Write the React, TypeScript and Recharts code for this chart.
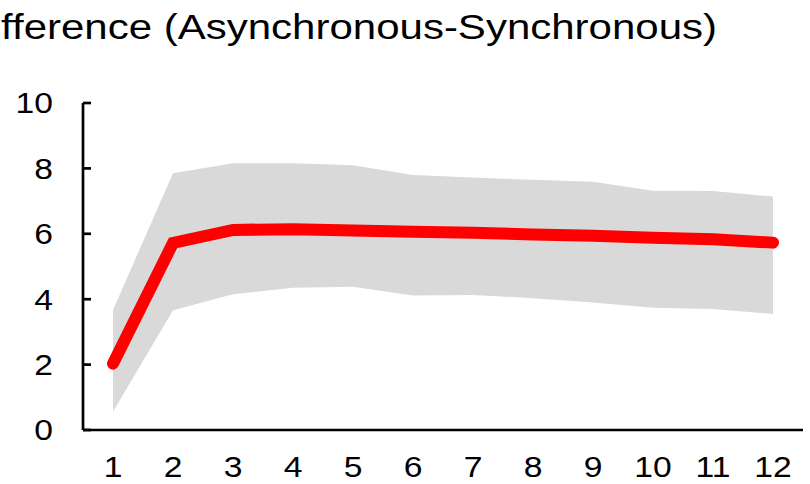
import React from "react";
import { ComposedChart, Area, Line, XAxis, YAxis } from "recharts";

const horizons = ["1", "2", "3", "4", "5", "6", "7", "8", "9", "10", "11", "12"];
const meanDiff = [2.03, 5.72, 6.12, 6.14, 6.1, 6.06, 6.03, 5.98, 5.94, 5.88, 5.83, 5.73];
const upperBound = [3.67, 7.85, 8.16, 8.16, 8.1, 7.8, 7.72, 7.65, 7.59, 7.32, 7.31, 7.14];
const lowerBound = [0.56, 3.66, 4.15, 4.35, 4.38, 4.11, 4.13, 4.03, 3.9, 3.74, 3.7, 3.55];
const yTicks = [0, 2, 4, 6, 8, 10];
const titleText = "Difference (Asynchronous-Synchronous)";

const data = horizons.map((h, i) => ({
  h,
  mean: meanDiff[i],
  band: [lowerBound[i], upperBound[i]],
}));

const FONT = "'Liberation Sans', Arial, sans-serif";
const SX = 1.16;

const YTick = (props: any) => {
  const { x, y, payload } = props;
  return (
    <g>
      <text
        transform={`translate(${x},${y}) scale(${SX},1)`}
        dy="0.355em"
        textAnchor="end"
        fontSize={29}
        fill="#000"
        fontFamily={FONT}
      >
        {payload.value}
      </text>
      <line x1={x + 30} x2={x + 38} y1={y} y2={y} stroke="#000" strokeWidth={2.7} />
    </g>
  );
};

const XTick = (props: any) => {
  const { x, y, payload } = props;
  return (
    <text
      transform={`translate(${x},${y + 47}) scale(${SX},1)`}
      textAnchor="middle"
      fontSize={29}
      fill="#000"
      fontFamily={FONT}
    >
      {payload.value}
    </text>
  );
};

export default function App() {
  return (
    <div style={{ position: "absolute", left: 0, top: 0, width: 810, height: 484, background: "#fff" }}>
      <ComposedChart
        width={810}
        height={484}
        data={data}
        margin={{ top: 103, right: 7, bottom: 0, left: 0 }}
      >
        <XAxis
          dataKey="h"
          height={54}
          padding={{ left: 30, right: 30 }}
          tickLine={false}
          tickSize={0}
          tickMargin={0}
          axisLine={{ stroke: "#000", strokeWidth: 2.7 }}
          tick={<XTick />}
          interval={0}
        />
        <YAxis
          width={83}
          domain={[0, 10]}
          ticks={yTicks}
          type="number"
          tickLine={false}
          tickSize={0}
          tickMargin={30}
          axisLine={{ stroke: "#000", strokeWidth: 2.7 }}
          tick={<YTick />}
          interval={0}
        />
        <Area
          dataKey="band"
          type="linear"
          stroke="none"
          fill="#d9d9d9"
          fillOpacity={1}
          isAnimationActive={false}
          dot={false}
          activeDot={false}
        />
        <Line
          dataKey="mean"
          type="linear"
          stroke="#ff0000"
          strokeWidth={12}
          strokeLinecap="round"
          dot={false}
          activeDot={false}
          isAnimationActive={false}
        />
      </ComposedChart>
      <svg
        width={810}
        height={484}
        style={{ position: "absolute", left: 0, top: 0, pointerEvents: "none" }}
      >
        <text
          transform="translate(717,39) scale(1.167,1)"
          textAnchor="end"
          fontSize={36}
          fill="#000"
          fontFamily={FONT}
        >
          {titleText}
        </text>
      </svg>
    </div>
  );
}
